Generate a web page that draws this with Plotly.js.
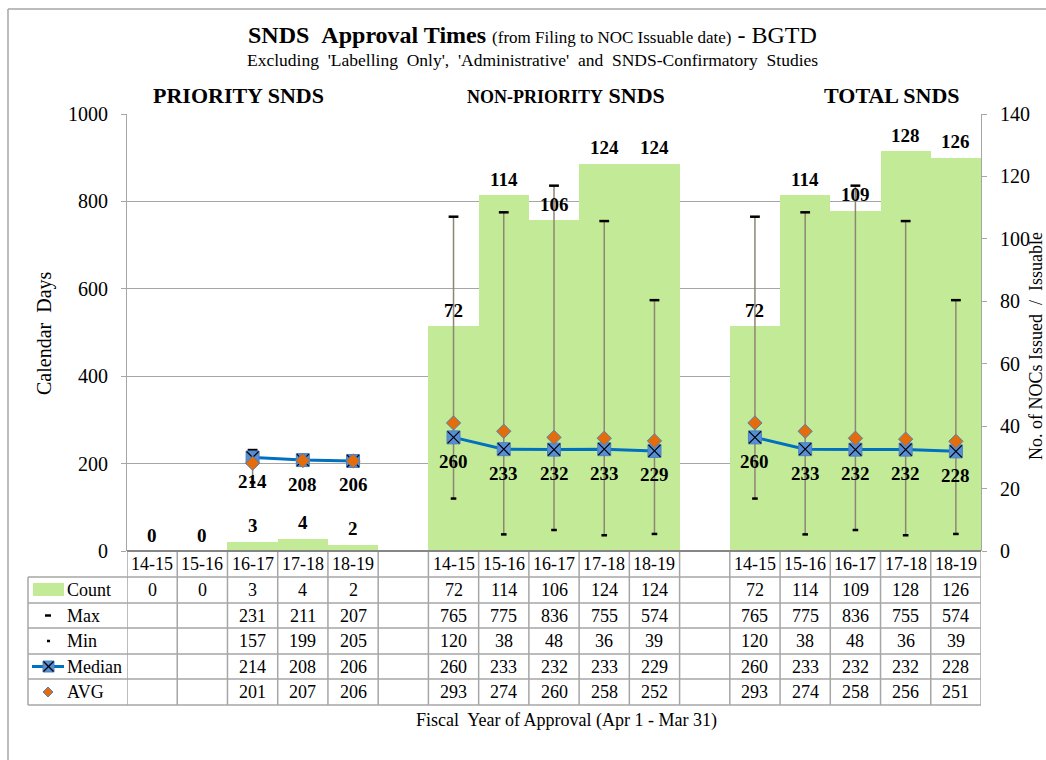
<!DOCTYPE html>
<html>
<head>
<meta charset="utf-8">
<script src="https://cdn.plot.ly/plotly-3.0.1.min.js"></script>
<style>html,body{margin:0;padding:0;background:#fff;}#chart{width:1046px;height:760px;}</style>
</head>
<body>
<div id="chart"></div>
<script>
// ---------------- data ----------------
const years = ['14-15', '15-16', '16-17', '17-18', '18-19'];
const groupNames = ['PRIORITY SNDS', 'NON-PRIORITY SNDS', 'TOTAL SNDS'];
const rowLabels = ['Count', 'Max', 'Min', 'Median', 'AVG'];

const priorityCount  = [0, 0, 3, 4, 2];
const priorityMax    = [null, null, 231, 211, 207];
const priorityMin    = [null, null, 157, 199, 205];
const priorityMedian = [null, null, 214, 208, 206];
const priorityAvg    = [null, null, 201, 207, 206];

const nonPriorityCount  = [72, 114, 106, 124, 124];
const nonPriorityMax    = [765, 775, 836, 755, 574];
const nonPriorityMin    = [120, 38, 48, 36, 39];
const nonPriorityMedian = [260, 233, 232, 233, 229];
const nonPriorityAvg    = [293, 274, 260, 258, 252];

const totalCount  = [72, 114, 109, 128, 126];
const totalMax    = [765, 775, 836, 755, 574];
const totalMin    = [120, 38, 48, 36, 39];
const totalMedian = [260, 233, 232, 232, 228];
const totalAvg    = [293, 274, 258, 256, 251];

// ---------------- structure ----------------
const groups = [
  {count: priorityCount, max: priorityMax, min: priorityMin, median: priorityMedian, avg: priorityAvg},
  {count: nonPriorityCount, max: nonPriorityMax, min: nonPriorityMin, median: nonPriorityMedian, avg: nonPriorityAvg},
  {count: totalCount, max: totalMax, min: totalMin, median: totalMedian, avg: totalAvg}
];
const STRIDE = years.length + 1; // one empty category between groups
const NCAT = groups.length * STRIDE - 1;

function series(key) {
  const xs = [], ys = [];
  groups.forEach((g, gi) => {
    if (gi > 0) { xs.push(gi * STRIDE - 1); ys.push(null); }
    years.forEach((y, i) => { xs.push(gi * STRIDE + i); ys.push(g[key][i]); });
  });
  return {x: xs, y: ys};
}

// pixel -> paper helpers (plot area: 127..981 x 114..551)
const L = 127, R = 981, T = 114, B = 551;
const P = px => (px - L) / (R - L);
const Q = py => (B - py) / (B - T);

const FONT = 'Liberation Serif';
const GREEN = '#c3eb97';
const GRID = '#a6a6a6';

// ---------------- traces ----------------
const traces = [];
const cnt = series('count');
traces.push({
  type: 'bar', x: cnt.x, y: cnt.y, width: 1, yaxis: 'y',
  marker: {color: GREEN, line: {width: 0}}, hoverinfo: 'skip', showlegend: false
});

// high-low lines
const hlx = [], hly = [];
groups.forEach((g, gi) => years.forEach((yr, i) => {
  if (g.max[i] != null && g.min[i] != null) {
    hlx.push(gi * STRIDE + i, gi * STRIDE + i, null);
    hly.push(g.min[i], g.max[i], null);
  }
}));
traces.push({type: 'scatter', mode: 'lines', x: hlx, y: hly, yaxis: 'y2',
  line: {color: '#8f8672', width: 1.5}, hoverinfo: 'skip', showlegend: false});

const mx = series('max'), mn = series('min');
traces.push({type: 'scatter', mode: 'markers', x: mx.x, y: mx.y, yaxis: 'y2',
  marker: {symbol: 'line-ew', size: 7, color: '#000', line: {color: '#000', width: 2.5}},
  hoverinfo: 'skip', showlegend: false});
traces.push({type: 'scatter', mode: 'markers', x: mn.x, y: mn.y, yaxis: 'y2',
  marker: {symbol: 'line-ew', size: 4, color: '#000', line: {color: '#000', width: 2.5}},
  hoverinfo: 'skip', showlegend: false});

const med = series('median');
traces.push({type: 'scatter', mode: 'lines+markers', x: med.x, y: med.y, yaxis: 'y2',
  connectgaps: false,
  line: {color: '#0070c0', width: 3},
  marker: {symbol: 'square', size: 13, color: '#558ed5', line: {color: '#4f81bd', width: 1}},
  hoverinfo: 'skip', showlegend: false});
traces.push({type: 'scatter', mode: 'markers', x: med.x, y: med.y, yaxis: 'y2',
  marker: {symbol: 'x-thin-open', size: 12, color: '#000', line: {color: '#000', width: 1.2}},
  hoverinfo: 'skip', showlegend: false});

const avg = series('avg');
traces.push({type: 'scatter', mode: 'markers', x: avg.x, y: avg.y, yaxis: 'y2',
  marker: {symbol: 'diamond', size: 11, color: '#e46c0a', line: {color: '#4f81bd', width: 1}},
  hoverinfo: 'skip', showlegend: false});

// ---------------- annotations ----------------
const ann = [];
const bold = s => '<b>' + s + '</b>';

// count labels above bars, median labels below markers
groups.forEach((g, gi) => years.forEach((yr, i) => {
  ann.push({x: gi * STRIDE + i, y: g.count[i], xref: 'x', yref: 'y', text: bold(g.count[i]),
    showarrow: false, yanchor: 'middle', yshift: 16, font: {family: FONT, size: 19, color: '#000'}});
  if (g.median[i] != null) {
    ann.push({x: gi * STRIDE + i, y: g.median[i], xref: 'x', yref: 'y2', text: bold(g.median[i]),
      showarrow: false, yanchor: 'middle', yshift: -24, font: {family: FONT, size: 19, color: '#000'}});
  }
}));

// title
const NB = '\u00a0';
ann.push({xref: 'paper', yref: 'paper', x: P(532), y: Q(35), xanchor: 'center', yanchor: 'middle', showarrow: false,
  text: '<b>SNDS' + NB + NB + 'Approval Times</b> <span style="font-size:17px">(from Filing to NOC Issuable date)</span> - BGTD',
  font: {family: FONT, size: 24, color: '#000'}});
ann.push({xref: 'paper', yref: 'paper', x: P(532), y: Q(60), xanchor: 'center', yanchor: 'middle', showarrow: false,
  text: "Excluding" + NB + " 'Labelling" + NB + " Only'," + NB + " 'Administrative'" + NB + " and" + NB + " SNDS-Confirmatory" + NB + " Studies",
  font: {family: FONT, size: 17.5, color: '#000'}});

// section headers
ann.push({xref: 'paper', yref: 'paper', x: P(238), y: Q(96), xanchor: 'center', yanchor: 'middle', showarrow: false,
  text: '<b>PRIORITY SNDS</b>', font: {family: FONT, size: 22, color: '#000'}});
ann.push({xref: 'paper', yref: 'paper', x: P(566), y: Q(96), xanchor: 'center', yanchor: 'middle', showarrow: false,
  text: '<b><span style="font-size:18px">NON-PRIORITY</span> SNDS</b>', font: {family: FONT, size: 22, color: '#000'}});
ann.push({xref: 'paper', yref: 'paper', x: P(892), y: Q(96), xanchor: 'center', yanchor: 'middle', showarrow: false,
  text: '<b>TOTAL SNDS</b>', font: {family: FONT, size: 22, color: '#000'}});

// axis titles
ann.push({xref: 'paper', yref: 'paper', x: P(44), y: Q(333), xanchor: 'center', yanchor: 'middle', showarrow: false,
  textangle: -90, text: 'Calendar' + NB + ' Days', font: {family: FONT, size: 20, color: '#000'}});
ann.push({xref: 'paper', yref: 'paper', x: P(1036), y: Q(346), xanchor: 'center', yanchor: 'middle', showarrow: false,
  textangle: -90, text: 'No. of NOCs Issued' + NB + ' /' + NB + ' Issuable', font: {family: FONT, size: 18, color: '#000'}});
ann.push({xref: 'paper', yref: 'paper', x: P(566), y: Q(720), xanchor: 'center', yanchor: 'middle', showarrow: false,
  text: 'Fiscal' + NB + ' Year of Approval (Apr 1 - Mar 31)', font: {family: FONT, size: 18, color: '#000'}});

// ---------------- data table ----------------
const rowTop = [551, 577, 603, 628, 654, 679, 705];
const rowKeys = ['count', 'max', 'min', 'median', 'avg'];
const shapes = [];
const tline = {color: GRID, width: 1.5};

groups.forEach((g, gi) => years.forEach((yr, i) => {
  const x = gi * STRIDE + i;
  ann.push({x: x, xref: 'x', yref: 'paper', y: Q((rowTop[0] + rowTop[1]) / 2), text: yr, showarrow: false,
    xanchor: 'center', yanchor: 'middle', font: {family: FONT, size: 18, color: '#000'}});
  rowKeys.forEach((k, r) => {
    const v = g[k][i];
    if (v == null) return;
    ann.push({x: x, xref: 'x', yref: 'paper', y: Q((rowTop[r + 1] + rowTop[r + 2]) / 2), text: String(v), showarrow: false,
      xanchor: 'center', yanchor: 'middle', font: {family: FONT, size: 18, color: '#000'}});
  });
}));
rowLabels.forEach((lab, r) => {
  ann.push({xref: 'paper', yref: 'paper', x: P(65), y: Q((rowTop[r + 1] + rowTop[r + 2]) / 2), text: lab, showarrow: false,
    xanchor: 'left', yanchor: 'middle', font: {family: FONT, size: 18, color: '#000'}});
});

// table grid
for (let k = 0; k <= NCAT; k++) {
  shapes.push({type: 'line', xref: 'x', yref: 'paper', x0: k - 0.5, x1: k - 0.5, y0: Q(551), y1: Q(705), line: tline});
}
for (let r = 1; r < rowTop.length; r++) {
  shapes.push({type: 'line', xref: 'paper', yref: 'paper', x0: P(28), x1: 1, y0: Q(rowTop[r]), y1: Q(rowTop[r]), line: tline});
}
shapes.push({type: 'line', xref: 'paper', yref: 'paper', x0: P(28), x1: P(28), y0: Q(577), y1: Q(705), line: tline});
// category axis line
shapes.push({type: 'line', xref: 'paper', yref: 'paper', x0: 0, x1: 1, y0: 0, y1: 0, line: {color: '#868686', width: 2}});

// legend keys
const rowMid = r => (rowTop[r + 1] + rowTop[r + 2]) / 2;
shapes.push({type: 'rect', xref: 'paper', yref: 'paper', x0: P(33), x1: P(64), y0: Q(rowMid(0) - 7), y1: Q(rowMid(0) + 6),
  fillcolor: GREEN, line: {width: 0}});
shapes.push({type: 'line', xref: 'paper', yref: 'paper', x0: P(45), x1: P(51), y0: Q(rowMid(1)), y1: Q(rowMid(1)), line: {color: '#000', width: 2.5}});
shapes.push({type: 'line', xref: 'paper', yref: 'paper', x0: P(47), x1: P(50), y0: Q(rowMid(2)), y1: Q(rowMid(2)), line: {color: '#000', width: 2.5}});
const my = rowMid(3);
shapes.push({type: 'line', xref: 'paper', yref: 'paper', x0: P(32), x1: P(64), y0: Q(my), y1: Q(my), line: {color: '#0070c0', width: 3}});
shapes.push({type: 'rect', xref: 'paper', yref: 'paper', x0: P(43), x1: P(54), y0: Q(my - 5.5), y1: Q(my + 5.5),
  fillcolor: '#558ed5', line: {color: '#4f81bd', width: 1}});
shapes.push({type: 'line', xref: 'paper', yref: 'paper', x0: P(43.5), x1: P(53.5), y0: Q(my - 5), y1: Q(my + 5), line: {color: '#000', width: 1.2}});
shapes.push({type: 'line', xref: 'paper', yref: 'paper', x0: P(43.5), x1: P(53.5), y0: Q(my + 5), y1: Q(my - 5), line: {color: '#000', width: 1.2}});
const ay = rowMid(4);
shapes.push({type: 'path', xref: 'paper', yref: 'paper',
  path: 'M' + P(48) + ',' + Q(ay - 5) + ' L' + P(53) + ',' + Q(ay) + ' L' + P(48) + ',' + Q(ay + 5) + ' L' + P(43) + ',' + Q(ay) + ' Z',
  fillcolor: '#e46c0a', line: {color: '#4f81bd', width: 1}});

// outer frame (partially visible)
shapes.push({type: 'line', xref: 'paper', yref: 'paper', x0: P(8), x1: P(1046), y0: Q(9), y1: Q(9), line: {color: GRID, width: 1.5}});
shapes.push({type: 'line', xref: 'paper', yref: 'paper', x0: P(8), x1: P(8), y0: Q(9), y1: Q(760), line: {color: GRID, width: 1.5}});

// ---------------- layout ----------------
const layout = {
  width: 1046, height: 760,
  margin: {l: L, r: 1046 - R, t: T, b: 760 - B, pad: 0},
  paper_bgcolor: '#fff', plot_bgcolor: 'rgba(0,0,0,0)',
  showlegend: false, bargap: 0,
  font: {family: FONT, color: '#000'},
  xaxis: {range: [-0.5, NCAT - 0.5], showticklabels: false, ticks: '', showgrid: false, zeroline: false, showline: false, fixedrange: true},
  yaxis: {range: [0, 140], side: 'right', dtick: 20, ticks: 'outside', ticklen: 5, tickcolor: GRID,
    showline: true, linecolor: GRID, linewidth: 1, showgrid: false, zeroline: false,
    tickfont: {family: FONT, size: 20, color: '#000'}, ticklabelstandoff: 9, fixedrange: true},
  yaxis2: {range: [0, 1000], overlaying: 'y', side: 'left', dtick: 200, ticks: 'outside', ticklen: 5, tickcolor: GRID,
    showline: true, linecolor: GRID, linewidth: 1, showgrid: true, gridcolor: GRID, gridwidth: 1, zeroline: false,
    tickfont: {family: FONT, size: 20, color: '#000'}, ticklabelstandoff: 9, fixedrange: true},
  annotations: ann,
  shapes: shapes
};

Plotly.newPlot('chart', traces, layout, {staticPlot: true, displayModeBar: false});
</script>
</body>
</html>
